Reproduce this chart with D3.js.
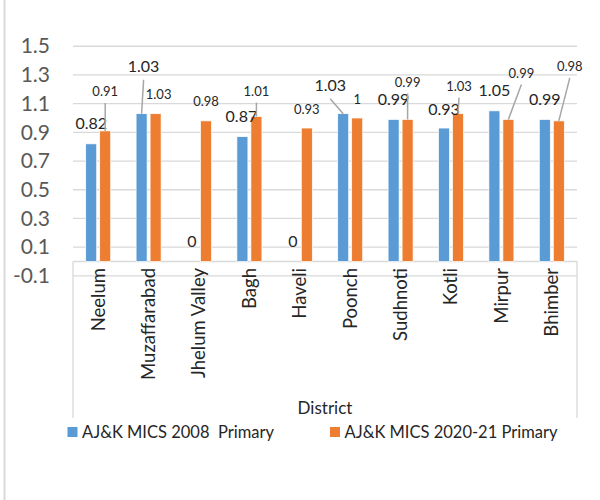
<!DOCTYPE html>
<html>
<head>
<meta charset="utf-8">
<script src="https://cdn.jsdelivr.net/npm/d3@7"></script>
<style>
  body { margin: 0; background: #fff; }
  svg { font-family: Lato, "Open Sans", sans-serif; }
</style>
</head>
<body>
<script>
// data
const districts = ["Neelum", "Muzaffarabad", "Jhelum Valley", "Bagh", "Haveli",
  "Poonch", "Sudhnoti", "Kotli", "Mirpur", "Bhimber"];
const seriesNames = ["AJ&K MICS 2008  Primary", "AJ&K MICS 2020-21 Primary"];
const mics2008 = [0.82, 1.03, 0, 0.87, 0, 1.03, 0.99, 0.93, 1.05, 0.99];
const mics2020 = [0.91, 1.03, 0.98, 1.01, 0.93, 1, 0.99, 1.03, 0.99, 0.98];
const yTicks = [-0.1, 0.1, 0.3, 0.5, 0.7, 0.9, 1.1, 1.3, 1.5];
const yTickLabels = ["-0.1", "0.1", "0.3", "0.5", "0.7", "0.9", "1.1", "1.3", "1.5"];

// label placement (dragged labels in the original), offsets from bar top
const blueLabelPos = [[0, -20], [2, -47], [0, -20], [-1, -20], [0, -20],
  [-13, -28], [0, -20], [0, -19], [0, -20], [0, -20]];
const blueLeader = [false, true, false, false, false, true, false, false, false, false];
const orangeLabelPos = [[0, -39], [3, -19], [0, -19], [0, -25], [0, -19],
  [0, -19], [0, -37], [1, -27], [13, -46], [11, -54]];
const orangeLeader = [true, false, false, true, false, false, true, true, true, true];

const colors = ["#5b9bd5", "#ed7d31"];
const w = 600, h = 500;
const left = 73, right = 577;

const svg = d3.select("body").append("svg").attr("width", w).attr("height", h);

// outer chart border (only left edge visible)
svg.append("line").attr("x1", 4.5).attr("x2", 4.5).attr("y1", 0).attr("y2", h)
  .attr("stroke", "#d9d9d9").attr("stroke-width", 2);

// scales
const y = d3.scaleLinear().domain([-0.1, 1.5]).range([275.85, 46.25]);
const x0 = d3.scaleBand().domain(districts).range([left, right]);
const x1 = d3.scaleBand().domain([0, 1]).range([0, x0.bandwidth()])
  .paddingInner(0.214).paddingOuter(0.907);

// gridlines
svg.append("g").selectAll("line").data(yTicks).join("line")
  .attr("x1", left).attr("x2", right)
  .attr("y1", d => y(d)).attr("y2", d => y(d))
  .attr("stroke", "#d9d9d9").attr("stroke-width", 1.3);

// y axis
const yAxis = d3.axisLeft(y).tickValues(yTicks).tickSize(0).tickPadding(23)
  .tickFormat((d, i) => yTickLabels[i]);
const ya = svg.append("g").attr("transform", `translate(${left},0)`).call(yAxis);
ya.select(".domain").remove();
ya.selectAll("text").attr("font-size", 21).attr("fill", "#595959")
  .attr("font-family", "Lato, sans-serif");

// category axis line + end ticks through label area
svg.append("line").attr("x1", left).attr("x2", right).attr("y1", y(0)).attr("y2", y(0))
  .attr("stroke", "#d9d9d9").attr("stroke-width", 1.3);
svg.append("g").selectAll("line").data([left, right]).join("line")
  .attr("x1", d => d).attr("x2", d => d).attr("y1", y(0)).attr("y2", 418)
  .attr("stroke", "#d9d9d9").attr("stroke-width", 1.3);

// bars
const series = [mics2008, mics2020];
series.forEach((vals, s) => {
  svg.append("g").selectAll("rect").data(vals).join("rect")
    .attr("x", (d, i) => x0(districts[i]) + x1(s))
    .attr("width", x1.bandwidth())
    .attr("y", d => y(d))
    .attr("height", d => y(0) - y(d))
    .attr("fill", colors[s])
    .attr("stroke", "#fff").attr("stroke-width", 0.7);
});

// data labels
const labelSets = [
  { vals: mics2008, pos: blueLabelPos, leader: blueLeader, s: 0, size: 16, lead: 13 },
  { vals: mics2020, pos: orangeLabelPos, leader: orangeLeader, s: 1, size: 13, lead: 11 }
];
labelSets.forEach(set => {
  const g = svg.append("g");
  set.vals.forEach((v, i) => {
    const bx = x0(districts[i]) + x1(set.s) + x1.bandwidth() / 2;
    const by = y(v);
    const lx = bx + set.pos[i][0];
    const ly = by + set.pos[i][1];
    if (set.leader[i]) {
      g.append("line").attr("x1", lx).attr("y1", ly + set.lead)
        .attr("x2", bx).attr("y2", by)
        .attr("stroke", "#a6a6a6").attr("stroke-width", 1.5);
    }
    g.append("text").attr("x", lx).attr("y", ly).attr("dy", "0.35em")
      .attr("text-anchor", "middle").attr("font-size", set.size)
      .attr("fill", "#262626").text(String(v));
  });
});

// category labels
svg.append("g").selectAll("text").data(districts).join("text")
  .attr("transform", d => `translate(${x0(d) + x0.bandwidth() / 2},268) rotate(-90)`)
  .attr("dy", "0.35em").attr("text-anchor", "end")
  .attr("font-size", 18.5).attr("fill", "#262626").text(d => d);

// axis title
svg.append("text").attr("x", (left + right) / 2).attr("y", 408).attr("dy", "0.35em")
  .attr("text-anchor", "middle").attr("font-size", 17).attr("fill", "#262626")
  .text("District");

// legend
const legendX = [67.5, 330];
const lg = svg.append("g").selectAll("g").data(seriesNames).join("g")
  .attr("transform", (d, i) => `translate(${legendX[i]},432)`);
lg.append("rect").attr("x", 0).attr("y", -5).attr("width", 10).attr("height", 10)
  .attr("fill", (d, i) => colors[i]);
lg.append("text").attr("x", 14.5).attr("dy", "0.35em").attr("font-size", 16.5)
  .attr("fill", "#262626").attr("xml:space", "preserve").style("white-space", "pre")
  .text(d => d);
</script>
</body>
</html>
